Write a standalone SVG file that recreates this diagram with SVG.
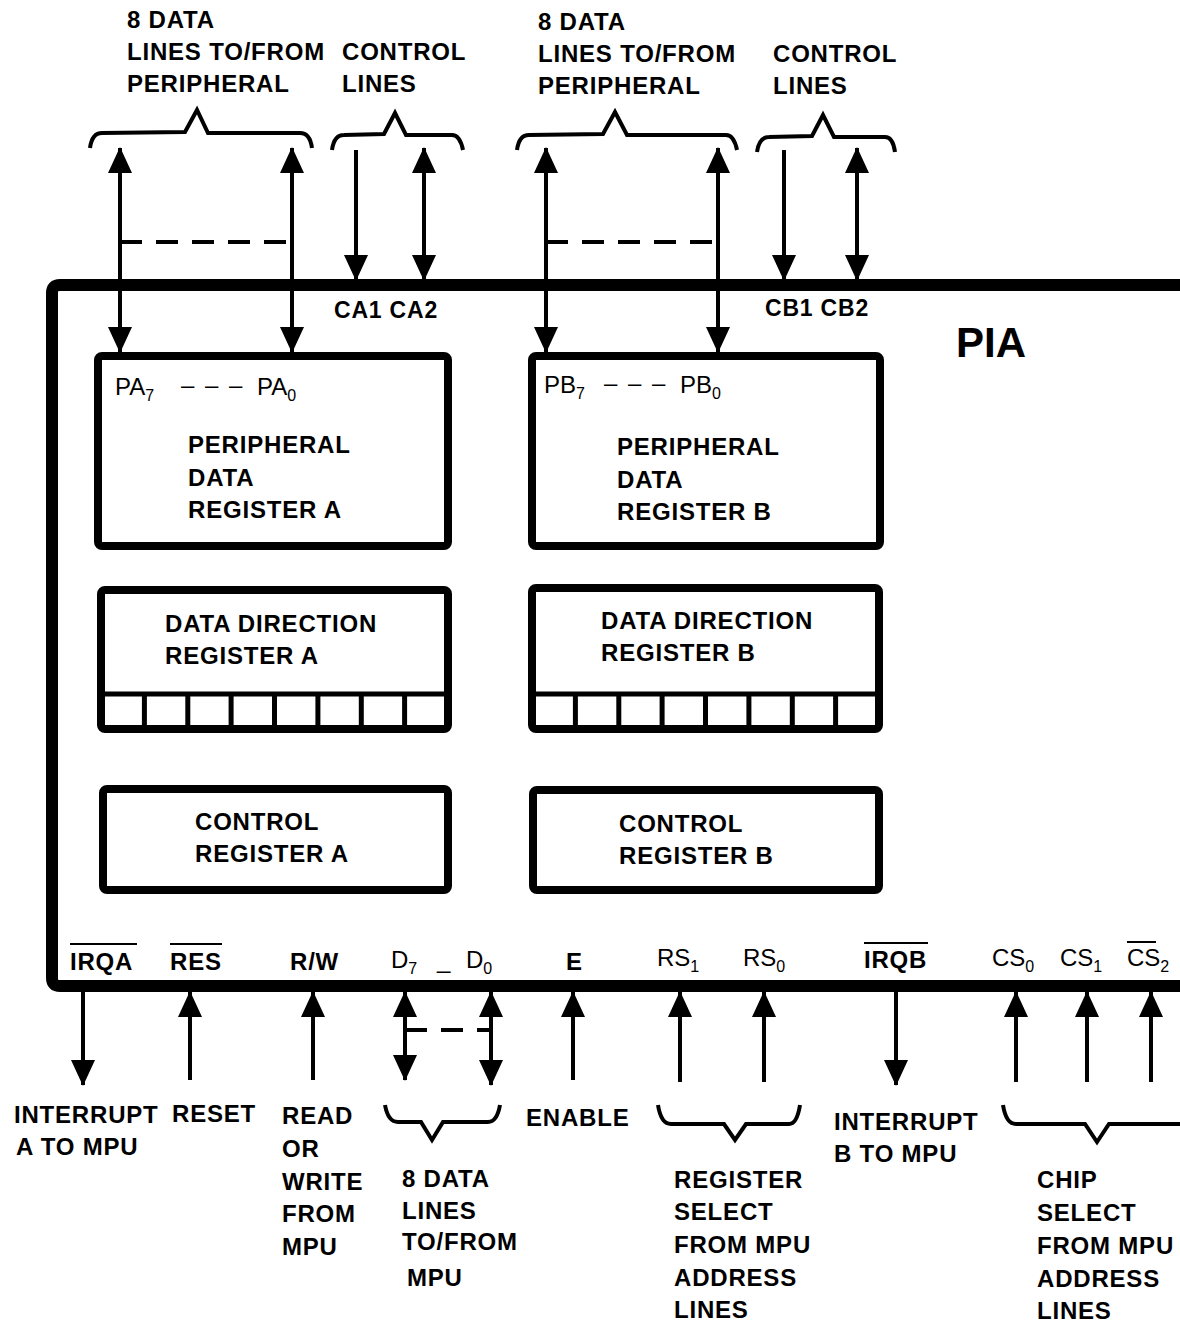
<svg xmlns="http://www.w3.org/2000/svg" width="1180" height="1322" viewBox="0 0 1180 1322">
<style>
.t{font-family:"Liberation Sans",Arial,sans-serif;font-weight:bold;font-size:24px;letter-spacing:0.8px;fill:#000}
.r{font-family:"Liberation Sans",Arial,sans-serif;font-weight:normal;font-size:24px;fill:#000}
.s{font-size:16px}
.dd{letter-spacing:2px}
.box{fill:#fff;stroke:#000;stroke-width:8}
.ln{stroke:#000;stroke-width:4;fill:none}
.dash{stroke:#000;stroke-width:4;stroke-dasharray:22 14;fill:none}
.br{stroke:#000;stroke-width:4;fill:none;stroke-linejoin:miter}
.cell{stroke:#000;stroke-width:5}
</style>
<defs>
<marker id="ah" markerUnits="userSpaceOnUse" markerWidth="26" markerHeight="24" viewBox="0 0 26 24" refX="25" refY="12" orient="auto-start-reverse">
<path d="M0,0 L26,12 L0,24 z" fill="#000"/>
</marker>
</defs>
<rect width="1180" height="1322" fill="#fff"/>

<g id="pia-border">
<path d="M1180,285 L60,285 Q52,285 52,293 L52,978 Q52,986 60,986 L1180,986" fill="none" stroke="#000" stroke-width="12"/>
<text class="t" x="956" y="357" style="font-size:42px;letter-spacing:0">PIA</text>
</g>

<g id="top-labels">
<text class="t" x="127" y="28">8 DATA</text>
<text class="t" x="127" y="60">LINES TO/FROM</text>
<text class="t" x="127" y="92">PERIPHERAL</text>
<text class="t" x="342" y="60">CONTROL</text>
<text class="t" x="342" y="92">LINES</text>
<text class="t" x="538" y="30">8 DATA</text>
<text class="t" x="538" y="62">LINES TO/FROM</text>
<text class="t" x="538" y="94">PERIPHERAL</text>
<text class="t" x="773" y="62">CONTROL</text>
<text class="t" x="773" y="94">LINES</text>
<text class="t" x="334" y="318" style="font-size:23px">CA1 CA2</text>
<text class="t" x="765" y="316" style="font-size:23px">CB1 CB2</text>
</g>

<g id="top-braces">
<path class="br" d="M90,148 Q92,133 102,133 L185,132 L197,110 L208,133 L300,133 Q310,133 312,148"/>
<path class="br" d="M332,150 Q334,135 344,135 L384,134 L395,113 L406,135 L452,135 Q460,135 463,150"/>
<path class="br" d="M517,150 Q519,135 529,135 L603,134 L615,112 L627,135 L726,135 Q734,135 737,150"/>
<path class="br" d="M757,152 Q759,137 769,137 L812,136 L823,115 L834,137 L885,137 Q893,137 895,152"/>
</g>

<g id="pdr-a">
<rect class="box" x="98" y="356" width="350" height="190" rx="4"/>
<text class="r" x="115" y="395">PA<tspan class="s" dy="6">7</tspan></text>
<text class="r dd" x="181" y="393">– – –</text>
<text class="r" x="257" y="395">PA<tspan class="s" dy="6">0</tspan></text>
<text class="t" x="188" y="453">PERIPHERAL</text>
<text class="t" x="188" y="486">DATA</text>
<text class="t" x="188" y="518">REGISTER A</text>
</g>

<g id="ddr-a">
<rect class="box" x="101" y="590" width="347" height="139" rx="4"/>
<line class="cell" x1="101" y1="694" x2="448" y2="694"/>
<g class="cell">
<line x1="144.4" y1="694" x2="144.4" y2="729"/>
<line x1="187.8" y1="694" x2="187.8" y2="729"/>
<line x1="231.1" y1="694" x2="231.1" y2="729"/>
<line x1="274.5" y1="694" x2="274.5" y2="729"/>
<line x1="317.9" y1="694" x2="317.9" y2="729"/>
<line x1="361.3" y1="694" x2="361.3" y2="729"/>
<line x1="404.6" y1="694" x2="404.6" y2="729"/>
</g>
<text class="t" x="165" y="632">DATA DIRECTION</text>
<text class="t" x="165" y="664">REGISTER A</text>
</g>

<g id="cr-a">
<rect class="box" x="103" y="789" width="345" height="101" rx="4"/>
<text class="t" x="195" y="830">CONTROL</text>
<text class="t" x="195" y="862">REGISTER A</text>
</g>

<g id="pdr-b">
<rect class="box" x="532" y="356" width="348" height="190" rx="4"/>
<text class="r" x="544" y="393">PB<tspan class="s" dy="6">7</tspan></text>
<text class="r dd" x="604" y="391">– – –</text>
<text class="r" x="680" y="393">PB<tspan class="s" dy="6">0</tspan></text>
<text class="t" x="617" y="455">PERIPHERAL</text>
<text class="t" x="617" y="488">DATA</text>
<text class="t" x="617" y="520">REGISTER B</text>
</g>

<g id="ddr-b">
<rect class="box" x="532" y="588" width="347" height="141" rx="4"/>
<line class="cell" x1="532" y1="694" x2="879" y2="694"/>
<g class="cell">
<line x1="575.4" y1="694" x2="575.4" y2="729"/>
<line x1="618.8" y1="694" x2="618.8" y2="729"/>
<line x1="662.1" y1="694" x2="662.1" y2="729"/>
<line x1="705.5" y1="694" x2="705.5" y2="729"/>
<line x1="748.9" y1="694" x2="748.9" y2="729"/>
<line x1="792.3" y1="694" x2="792.3" y2="729"/>
<line x1="835.6" y1="694" x2="835.6" y2="729"/>
</g>
<text class="t" x="601" y="629">DATA DIRECTION</text>
<text class="t" x="601" y="661">REGISTER B</text>
</g>

<g id="cr-b">
<rect class="box" x="533" y="790" width="346" height="100" rx="4"/>
<text class="t" x="619" y="832">CONTROL</text>
<text class="t" x="619" y="864">REGISTER B</text>
</g>

<g id="bus-labels">
<text class="t" x="70" y="970">IRQA</text>
<line x1="70" y1="944" x2="137" y2="944" stroke="#000" stroke-width="2"/>
<text class="t" x="170" y="970">RES</text>
<line x1="170" y1="944" x2="222" y2="944" stroke="#000" stroke-width="2"/>
<text class="t" x="290" y="970">R/W</text>
<text class="r" x="391" y="968">D<tspan class="s" dy="6">7</tspan></text>
<text class="r" x="437" y="968">_</text>
<text class="r" x="466" y="968">D<tspan class="s" dy="6">0</tspan></text>
<text class="t" x="566" y="970">E</text>
<text class="r" x="657" y="966">RS<tspan class="s" dy="6">1</tspan></text>
<text class="r" x="743" y="966">RS<tspan class="s" dy="6">0</tspan></text>
<text class="t" x="864" y="968">IRQB</text>
<line x1="864" y1="943" x2="928" y2="943" stroke="#000" stroke-width="2"/>
<text class="r" x="992" y="966">CS<tspan class="s" dy="6">0</tspan></text>
<text class="r" x="1060" y="966">CS<tspan class="s" dy="6">1</tspan></text>
<text class="r" x="1127" y="966">CS<tspan class="s" dy="6">2</tspan></text>
<line x1="1127" y1="942" x2="1156" y2="942" stroke="#000" stroke-width="2"/>
</g>

<g id="connectors">
<line class="ln" x1="120" y1="148" x2="120" y2="352" marker-start="url(#ah)" marker-end="url(#ah)"/>
<line class="ln" x1="292" y1="148" x2="292" y2="352" marker-start="url(#ah)" marker-end="url(#ah)"/>
<line class="dash" x1="120" y1="242" x2="292" y2="242"/>
<line class="ln" x1="356" y1="150" x2="356" y2="280" marker-end="url(#ah)"/>
<line class="ln" x1="424" y1="148" x2="424" y2="280" marker-start="url(#ah)" marker-end="url(#ah)"/>
<line class="ln" x1="546" y1="148" x2="546" y2="352" marker-start="url(#ah)" marker-end="url(#ah)"/>
<line class="ln" x1="718" y1="148" x2="718" y2="352" marker-start="url(#ah)" marker-end="url(#ah)"/>
<line class="dash" x1="546" y1="242" x2="718" y2="242"/>
<line class="ln" x1="784" y1="150" x2="784" y2="280" marker-end="url(#ah)"/>
<line class="ln" x1="857" y1="148" x2="857" y2="280" marker-start="url(#ah)" marker-end="url(#ah)"/>

<line class="ln" x1="83" y1="992" x2="83" y2="1085" marker-end="url(#ah)"/>
<line class="ln" x1="190" y1="1080" x2="190" y2="992" marker-end="url(#ah)"/>
<line class="ln" x1="313" y1="1080" x2="313" y2="992" marker-end="url(#ah)"/>
<line class="ln" x1="405" y1="1080" x2="405" y2="992" marker-start="url(#ah)" marker-end="url(#ah)"/>
<line class="ln" x1="491" y1="1085" x2="491" y2="992" marker-start="url(#ah)" marker-end="url(#ah)"/>
<line class="dash" x1="405" y1="1030" x2="491" y2="1030"/>
<line class="ln" x1="573" y1="1080" x2="573" y2="992" marker-end="url(#ah)"/>
<line class="ln" x1="680" y1="1082" x2="680" y2="992" marker-end="url(#ah)"/>
<line class="ln" x1="764" y1="1082" x2="764" y2="992" marker-end="url(#ah)"/>
<line class="ln" x1="896" y1="992" x2="896" y2="1085" marker-end="url(#ah)"/>
<line class="ln" x1="1016" y1="1082" x2="1016" y2="992" marker-end="url(#ah)"/>
<line class="ln" x1="1087" y1="1082" x2="1087" y2="992" marker-end="url(#ah)"/>
<line class="ln" x1="1151" y1="1082" x2="1151" y2="992" marker-end="url(#ah)"/>
</g>

<g id="bottom-braces">
<path class="br" d="M385,1105 Q388,1122 398,1122 L421,1122 L432,1140 L443,1122 L488,1122 Q497,1122 500,1105"/>
<path class="br" d="M658,1105 Q661,1124 671,1124 L724,1124 L735,1140 L746,1124 L789,1124 Q797,1124 800,1105"/>
<path class="br" d="M1003,1105 Q1006,1124 1016,1124 L1085,1124 L1097,1142 L1109,1124 L1180,1124"/>
</g>

<g id="bottom-labels">
<text class="t" x="14" y="1123">INTERRUPT</text>
<text class="t" x="16" y="1155">A TO MPU</text>
<text class="t" x="172" y="1122">RESET</text>
<text class="t" x="282" y="1124">READ</text>
<text class="t" x="282" y="1157">OR</text>
<text class="t" x="282" y="1190">WRITE</text>
<text class="t" x="282" y="1222">FROM</text>
<text class="t" x="282" y="1255">MPU</text>
<text class="t" x="402" y="1187">8 DATA</text>
<text class="t" x="402" y="1219">LINES</text>
<text class="t" x="402" y="1250">TO/FROM</text>
<text class="t" x="407" y="1286">MPU</text>
<text class="t" x="526" y="1126">ENABLE</text>
<text class="t" x="674" y="1188">REGISTER</text>
<text class="t" x="674" y="1220">SELECT</text>
<text class="t" x="674" y="1253">FROM MPU</text>
<text class="t" x="674" y="1286">ADDRESS</text>
<text class="t" x="674" y="1318">LINES</text>
<text class="t" x="834" y="1130">INTERRUPT</text>
<text class="t" x="834" y="1162">B TO MPU</text>
<text class="t" x="1037" y="1188">CHIP</text>
<text class="t" x="1037" y="1221">SELECT</text>
<text class="t" x="1037" y="1254">FROM MPU</text>
<text class="t" x="1037" y="1287">ADDRESS</text>
<text class="t" x="1037" y="1319">LINES</text>
</g>
</svg>
